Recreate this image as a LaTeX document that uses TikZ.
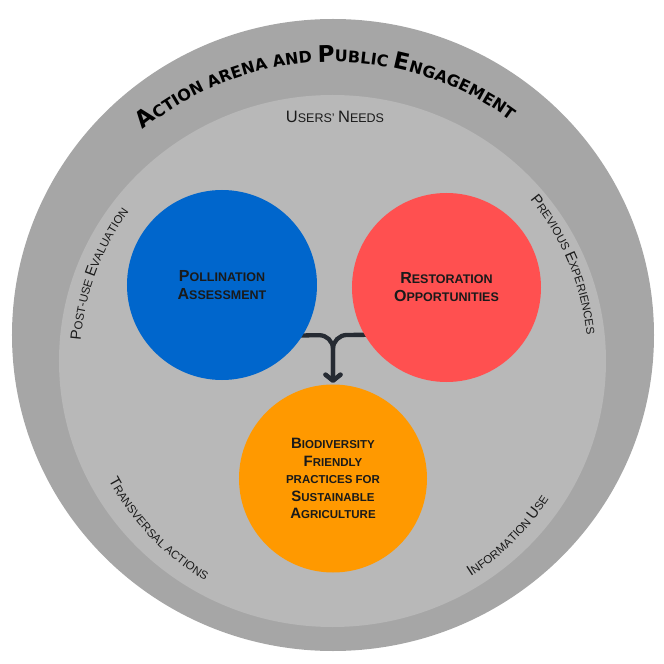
\documentclass[tikz,border=0pt]{standalone}
\usepackage{fontspec}
\setmainfont{Liberation Sans}
\newfontfamily\dvsans{DejaVu Sans}
\usetikzlibrary{decorations.text,arrows.meta}
\definecolor{ringgray}{HTML}{A6A6A6}
\definecolor{innergray}{HTML}{B8B8B8}
\definecolor{pollblue}{HTML}{0066CC}
\definecolor{restred}{HTML}{FF5050}
\definecolor{agriorange}{HTML}{FF9900}
\definecolor{txtdark}{HTML}{1A1A1A}
\definecolor{arrowdark}{HTML}{262B33}
\newcommand\TitB{\dvsans\bfseries\fontsize{23}{23}\selectfont\color{black}}
\newcommand\TitS{\dvsans\bfseries\fontsize{16}{16}\selectfont\color{black}}
\newcommand\RgB{\fontsize{15}{15}\selectfont\color{txtdark}}
\newcommand\RgS{\fontsize{11.5}{11.5}\selectfont\color{txtdark}}
\newcommand\CiB[1]{{\fontsize{16}{18}\selectfont #1}}
\newcommand\CiS[1]{{\fontsize{12.5}{18}\selectfont #1}}
\newcommand\OrB[1]{{\fontsize{15}{17.5}\selectfont #1}}
\newcommand\OrS[1]{{\fontsize{11.5}{17.5}\selectfont #1}}
\pgfdeclarelayer{bg}
\pgfdeclarelayer{mid}
\pgfsetlayers{bg,mid,main}
\begin{document}
\begin{tikzpicture}[x=1pt,y=1pt,
  bubble/.style={circle, inner sep=0pt, align=center, text=txtdark},
  conn/.style={draw=arrowdark, line width=4.3pt, rounded corners=14pt,
    -{Straight Barb[length=6pt,width=15pt,round]}, shorten <=-8pt, shorten >=1.5pt}
]
\useasboundingbox (-333,-303) rectangle (331,361);
\begin{pgfonlayer}{bg}
\fill[ringgray] (0,26) ellipse [x radius=321, y radius=316];
\fill[innergray] (-0.5,0) ellipse [x radius=273.5, y radius=266];
\end{pgfonlayer}

\node[bubble, fill=pollblue, minimum size=190pt, font=\bfseries\fontsize{16}{18}\selectfont] (poll) at (-111,76)
  {\CiB{P}\CiS{OLLINATION}\\\CiB{A}\CiS{SSESSMENT}};
\node[bubble, fill=restred, minimum size=189pt, font=\bfseries\fontsize{16}{18}\selectfont] (rest) at (113.5,73.5)
  {\CiB{R}\CiS{ESTORATION}\\\CiB{O}\CiS{PPORTUNITIES}};
\node[bubble, fill=agriorange, minimum size=188pt, font=\bfseries\fontsize{15}{17.5}\selectfont] (agri) at (0,-117.5)
  {\OrB{B}\OrS{IODIVERSITY}\\\OrB{F}\OrS{RIENDLY}\\\OrS{PRACTICES FOR}\\\OrB{S}\OrS{USTAINABLE}\\\OrB{A}\OrS{GRICULTURE}};

\begin{pgfonlayer}{mid}
\coordinate (jn) at (0,26);
\draw[conn] (poll.-32) -- (jn) -- (agri.north);
\draw[conn] (rest.210) -- (jn) -- (agri.north);
\end{pgfonlayer}

\node[anchor=base, text=txtdark] (needs) at (2,238)
  {{\fontsize{16.5}{16.5}\selectfont U}{\fontsize{12.5}{12.5}\selectfont SERS’ }{\fontsize{16.5}{16.5}\selectfont N}{\fontsize{12.5}{12.5}\selectfont EEDS}};

\path[decorate, decoration={text along path, text align=center,
  text={|\TitB|A|\TitS|CTION ARENA AND |\TitB|P|\TitS|UBLIC |\TitB|E|\TitS|NGAGEMENT}}]
  (171.5:299) arc[start angle=171.5, end angle=11.5, radius=299];
\path[decorate, decoration={text along path, text align=center,
  text={|\RgB|P|\RgS|OST-USE |\RgB|E|\RgS|VALUATION}}]
  (200:253) arc[start angle=200, end angle=119.2, radius=253];
\path[decorate, decoration={text along path, text align=center,
  text={|\RgB|P|\RgS|REVIOUS |\RgB|E|\RgS|XPERIENCES}}]
  (62.6:255) arc[start angle=62.6, end angle=-17.4, radius=255];
\path[decorate, decoration={text along path, text align=center,
  text={|\RgB|T|\RgS|RANSVERSAL ACTIONS}}]
  (183.9:254) arc[start angle=183.9, end angle=263.9, radius=254];
\path[decorate, decoration={text along path, text align=center,
  text={|\RgB|I|\RgS|NFORMATION |\RgB|U|\RgS|SE}}]
  (-85:256) arc[start angle=-85, end angle=-5, radius=256];
\end{tikzpicture}
\end{document}
